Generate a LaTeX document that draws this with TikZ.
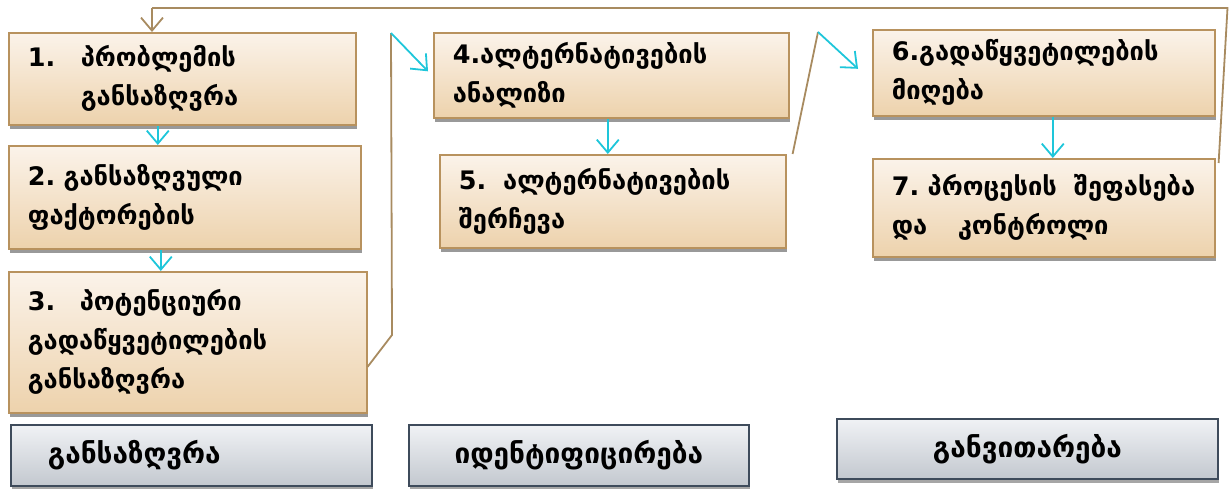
\documentclass[tikz,border=0pt]{standalone}
\usepackage{fontspec}
\setmainfont{DejaVu Sans}
\usetikzlibrary{arrows.meta,shadows}
\definecolor{boxtop}{HTML}{FBF3EA}
\definecolor{boxbot}{HTML}{EDD2AC}
\definecolor{boxline}{HTML}{B8925E}
\definecolor{brownline}{HTML}{A88B60}
\definecolor{cyanline}{HTML}{1EC6DA}
\definecolor{graytop}{HTML}{F0F2F5}
\definecolor{graybot}{HTML}{C3C8CF}
\definecolor{grayline}{HTML}{3E4B5B}
\tikzset{
  stepbox/.style={draw=boxline, line width=1.6pt, top color=boxtop, bottom color=boxbot,
    anchor=north west, align=left, inner xsep=19pt, inner ysep=0pt,
    font=\bfseries\fontsize{25.5}{39}\selectfont,
    drop shadow={shadow xshift=1pt, shadow yshift=-4pt, fill=black!40, opacity=1}},
  phasebox/.style={draw=grayline, line width=1.8pt, top color=graytop, bottom color=graybot,
    anchor=north west, inner xsep=0pt, inner ysep=0pt,
    font=\bfseries\fontsize{28}{32}\selectfont,
    drop shadow={shadow xshift=1pt, shadow yshift=-4pt, fill=black!35, opacity=1}},
  cyarrow/.style={draw=cyanline, line width=1.8pt, -{Straight Barb[length=13pt,width=22pt,line width=1.8pt]}},
  brline/.style={draw=brownline, line width=1.8pt},
  brarrow/.style={brline, -{Straight Barb[length=13pt,width=22pt,line width=1.8pt]}},
}
\begin{document}
\begin{tikzpicture}[x=1pt,y=-1pt]
\useasboundingbox (0,0) rectangle (1229,488);
% step boxes
\node[stepbox, minimum height=92pt, text width=309pt] (b1) at (8,32)
  {\makebox[53pt][l]{1.}პრობლემის\\\hspace*{53pt}განსაზღვრა};
\node[stepbox, minimum height=103pt, text width=314pt] (b2) at (8,145)
  {2.\ განსაზღვული\\ფაქტორების};
\node[stepbox, minimum height=141pt, text width=320pt] (b3) at (8,271)
  {\makebox[52pt][l]{3.}პოტენციური\\გადაწყვეტილების\\განსაზღვრა};
\node[stepbox, minimum height=85pt, text width=317pt] (b4) at (433,32)
  {4.ალტერნატივების\\ანალიზი};
\node[stepbox, minimum height=93pt, text width=308pt] (b5) at (439,154)
  {5.\ \ ალტერნატივების\\შერჩევა};
\node[stepbox, minimum height=86pt, text width=304pt] (b6) at (872,29)
  {6.გადაწყვეტილების\\მიღება};
\node[stepbox, minimum height=98pt, text width=304pt] (b7) at (872,158)
  {7.\ პროცესის\ \ შეფასება\\\makebox[66pt][l]{და}კონტროლი};
% phase boxes
\node[phasebox, minimum width=361pt, minimum height=61pt, align=left, text width=361pt] (p1) at (10,424)
  {\hspace*{37pt}განსაზღვრა};
\node[phasebox, minimum width=340pt, minimum height=61pt] (p2) at (408,424) {იდენტიფიცირება};
\node[phasebox, minimum width=381pt, minimum height=60pt] (p3) at (836,418) {განვითარება};
% vertical arrows
\draw[cyarrow] ([xshift=-24.5pt]b1.south) -- ([xshift=-24.5pt]b1.south |- b2.north);
\draw[cyarrow] ([xshift=-24pt]b2.south) -- ([xshift=-24pt]b2.south |- b3.north);
\draw[cyarrow] ([xshift=-3.5pt]b4.south) -- ([xshift=-3.5pt]b4.south |- b5.north);
\draw[cyarrow] ([xshift=9pt]b6.south) -- ([xshift=9pt]b6.south |- b7.north);
% links between columns
\coordinate (c3a) at (392,335);
\coordinate (c3b) at (391,33);
\draw[brline] ([yshift=-24.5pt]b3.east) -- (c3a) -- (c3b);
\draw[cyarrow] (c3b) -- ([xshift=-5pt,yshift=4pt]b4.west);
\coordinate (c5a) at (818,32);
\draw[brline] ([xshift=6pt]b5.north east) -- (c5a);
\draw[cyarrow] (c5a) -- ([xshift=-14pt,yshift=4pt]b6.west);
% feedback loop
\coordinate (fbA) at (1227.5,8);
\coordinate (fbB) at (152,8);
\draw[brline] ([xshift=3pt,yshift=-5pt]b7.north east) -- (fbA) -- (fbB);
\draw[brarrow] (fbB) -- (fbB |- b1.north);
\end{tikzpicture}
\end{document}
